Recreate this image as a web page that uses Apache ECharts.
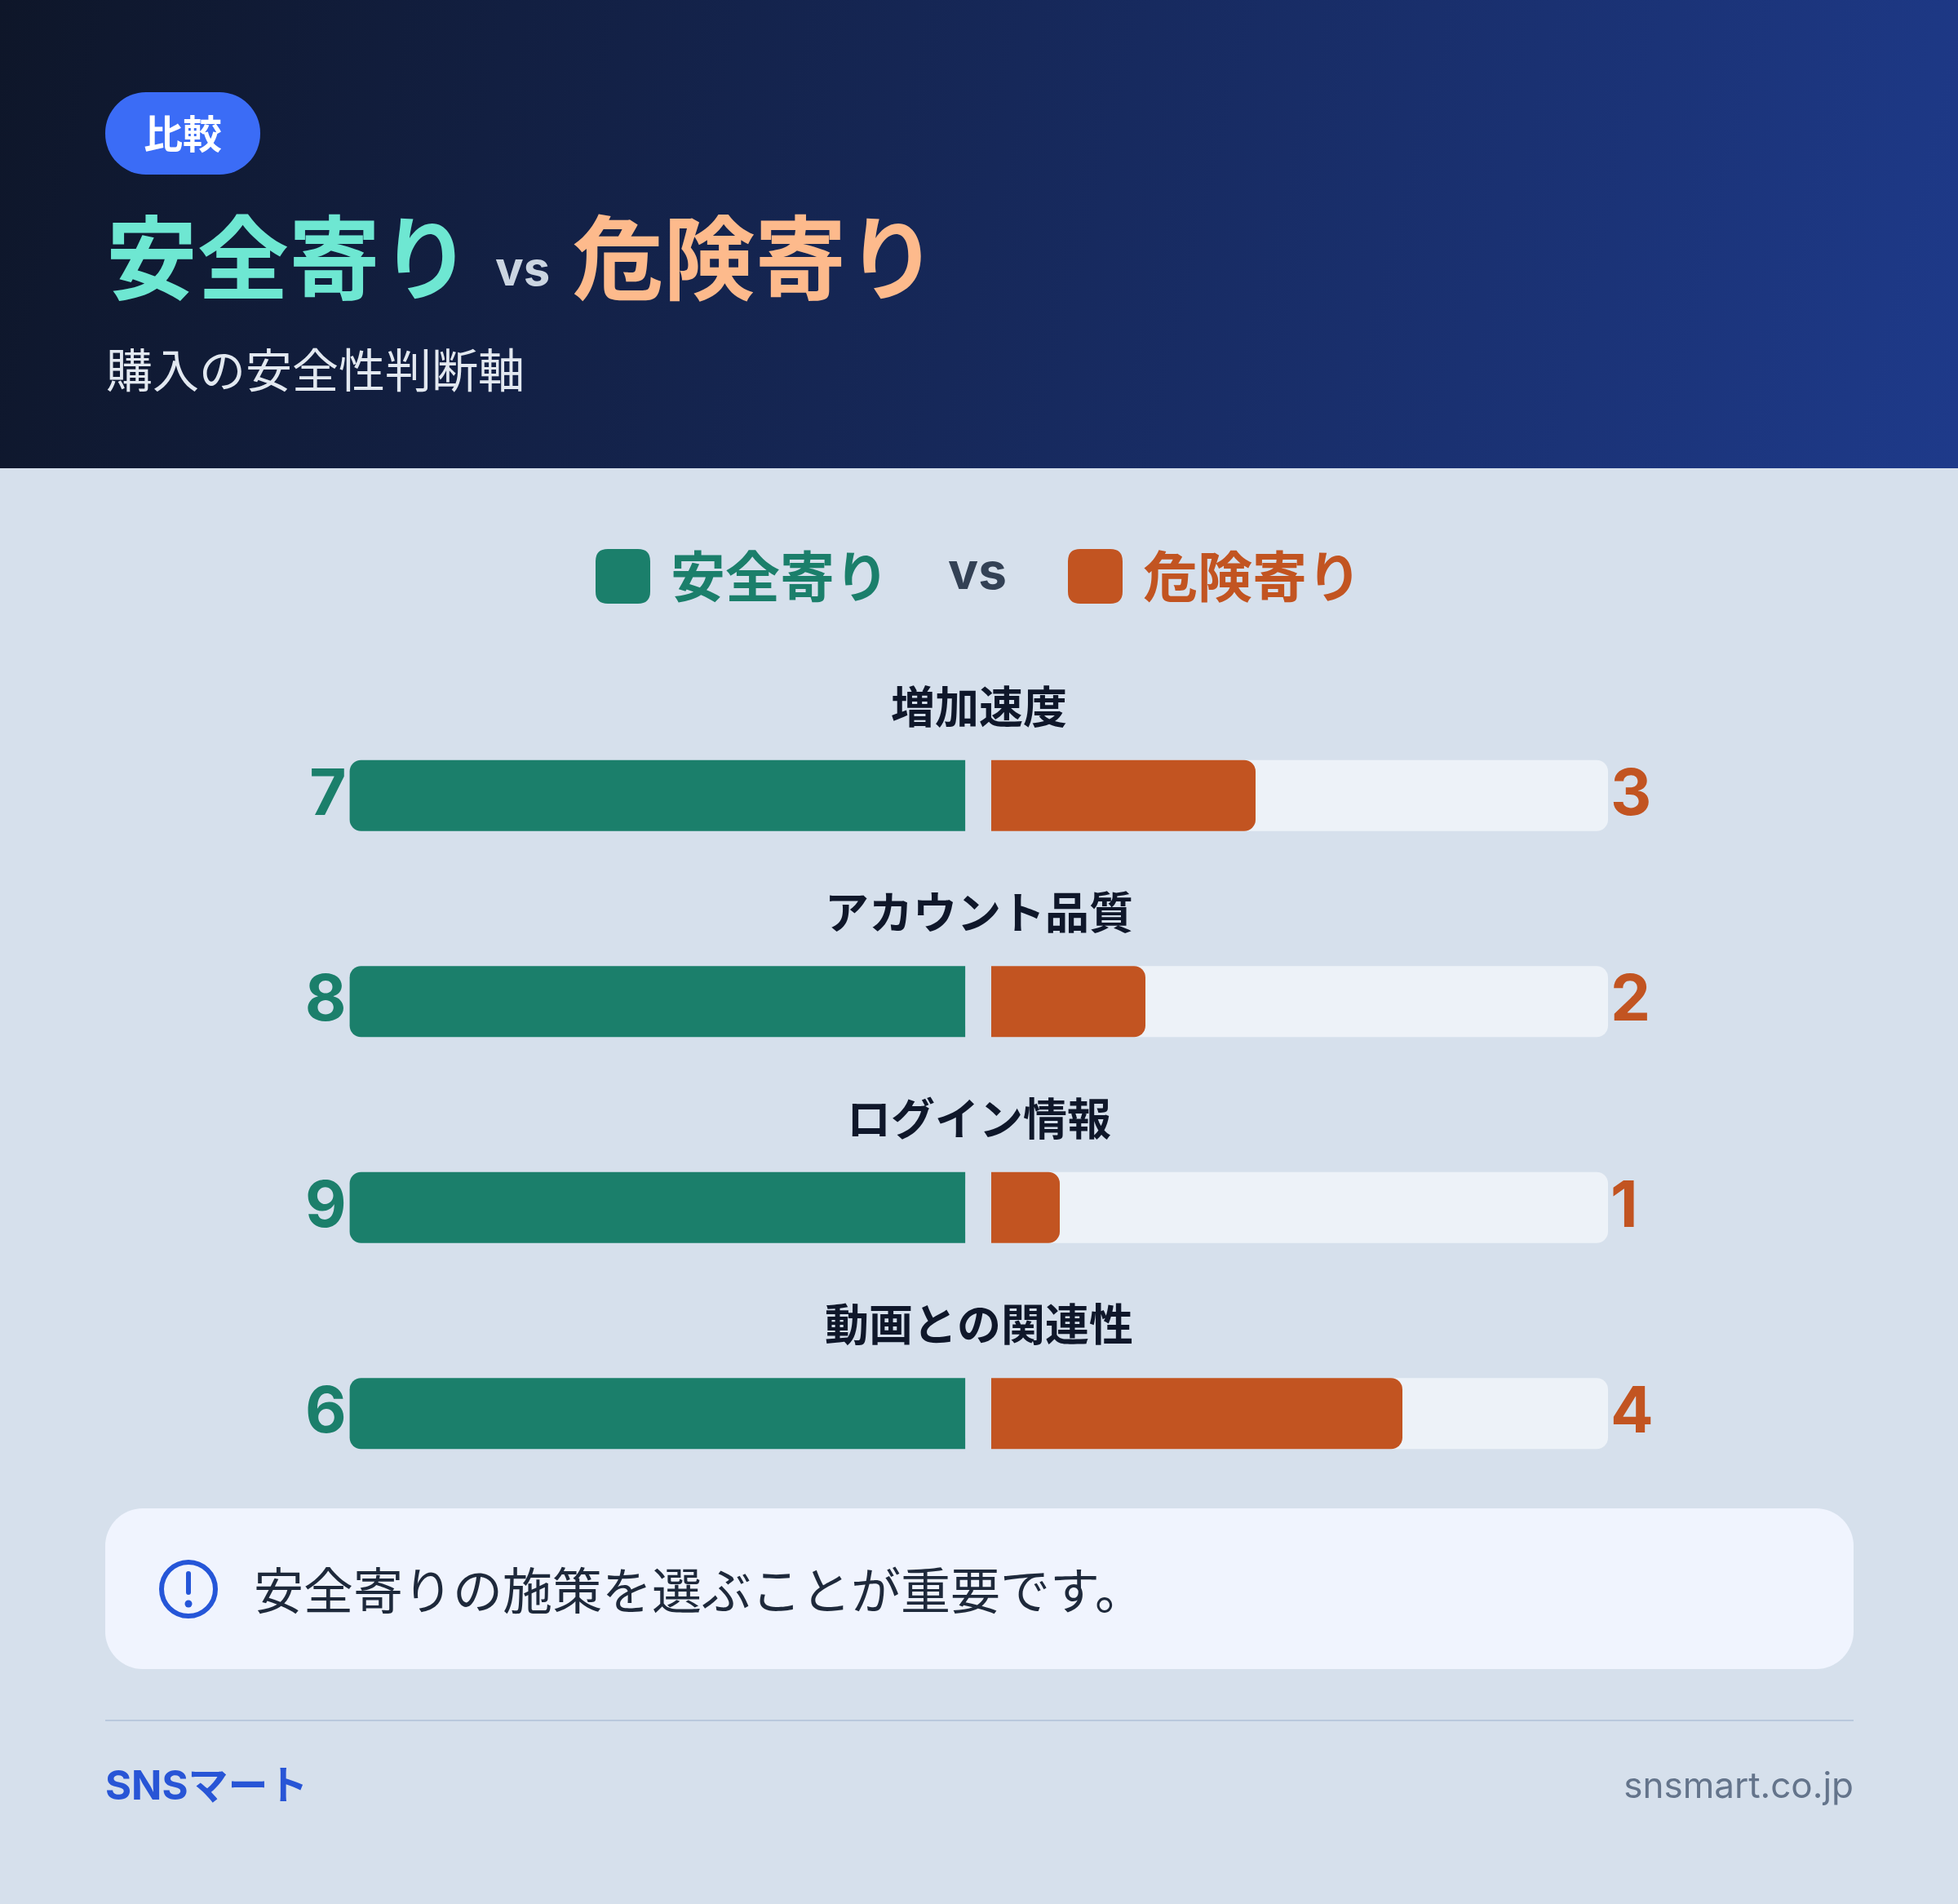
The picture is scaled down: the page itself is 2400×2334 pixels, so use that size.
<!DOCTYPE html>
<html>
<head>
<meta charset="utf-8">
<script src="https://cdn.jsdelivr.net/npm/echarts@6/dist/echarts.min.js"></script>
<style>
  html, body { margin: 0; padding: 0; background: #d6e0ec; }
  #chart { width: 2400px; height: 2334px; }
</style>
</head>
<body>
<div id="chart"></div>
<script>
// 比較データ
var categories = ['増加速度', 'アカウント品質', 'ログイン情報', '動画との関連性'];
var safeValues = [7, 8, 9, 6];
var dangerValues = [3, 2, 1, 4];

var safeName = '安全寄り';
var dangerName = '危険寄り';
var noteText = '安全寄りの施策を選ぶことが重要です。';

var GREEN = '#1b7f6b';
var ORANGE = '#c25421';
var JP = "'Noto Sans CJK JP', sans-serif";
var LAT = "Inter, 'Noto Sans CJK JP', sans-serif";

// 左バーは安全寄りを基準(=1)、右バーは危険/安全の比で描く
var safeRatio = safeValues.map(function (v, i) { return safeValues[i] / v; });
var dangerRatio = dangerValues.map(function (v, i) { return v / safeValues[i]; });

var myChart = echarts.init(document.getElementById('chart'));

var gridTop = 849, gridHeight = 1010;

var option = {
    backgroundColor: '#d6e0ec',
    animation: false,
    legend: {
        left: 725,
        top: 668,
        itemWidth: 67,
        itemHeight: 67,
        itemGap: 219,
        selectedMode: false,
        icon: 'path://M15,0 L52,0 Q67,0 67,15 L67,52 Q67,67 52,67 L15,67 Q0,67 0,52 L0,15 Q0,0 15,0 Z',
        textStyle: { fontSize: 67, fontWeight: 'bold', fontFamily: JP, padding: [0, 0, 0, 20] },
        data: [
            { name: safeName, itemStyle: { color: GREEN }, textStyle: { color: GREEN } },
            { name: dangerName, itemStyle: { color: ORANGE }, textStyle: { color: ORANGE } }
        ]
    },
    grid: [
        { left: 428.6, width: 754.5, top: gridTop, height: gridHeight },
        { left: 1215, width: 756, top: gridTop, height: gridHeight }
    ],
    xAxis: [
        { gridIndex: 0, type: 'value', min: 0, max: 1, inverse: true, show: false },
        { gridIndex: 1, type: 'value', min: 0, max: 1, show: false }
    ],
    yAxis: [
        {
            gridIndex: 0, type: 'category', data: categories, inverse: true, position: 'left',
            axisLine: { show: false }, axisTick: { show: false }, splitLine: { show: false },
            axisLabel: {
                margin: 4, color: GREEN, fontSize: 78, fontWeight: 'bold', fontFamily: LAT,
                formatter: function (v, i) { return String(safeValues[i]); }
            }
        },
        {
            gridIndex: 1, type: 'category', data: categories, inverse: true, position: 'right',
            axisLine: { show: false }, axisTick: { show: false }, splitLine: { show: false },
            axisLabel: {
                margin: 3, color: ORANGE, fontSize: 78, fontWeight: 'bold', fontFamily: LAT,
                formatter: function (v, i) { return String(dangerValues[i]); }
            }
        }
    ],
    series: [
        {
            name: safeName, type: 'bar', xAxisIndex: 0, yAxisIndex: 0,
            data: safeRatio, barWidth: 87,
            itemStyle: { color: GREEN, borderRadius: [14, 0, 0, 14] }
        },
        {
            name: dangerName, type: 'bar', xAxisIndex: 1, yAxisIndex: 1,
            data: dangerRatio, barWidth: 87,
            showBackground: true,
            backgroundStyle: { color: '#edf2f8', borderRadius: [0, 14, 14, 0] },
            itemStyle: { color: ORANGE, borderRadius: [0, 14, 14, 0] }
        }
    ],
    graphic: []
};

myChart.setOption(option);

// 固定の装飾(ヘッダー・注記・フッター)
var graphics = [
    {
        type: 'rect', z: -1, shape: { x: 0, y: 0, width: 2400, height: 574 },
        style: {
            fill: new echarts.graphic.LinearGradient(0, 0, 1, 1, [
                { offset: 0, color: '#0e1629' },
                { offset: 1, color: '#1e3a8a' }
            ])
        }
    },
    {
        type: 'rect', shape: { x: 129, y: 113, width: 190, height: 101, r: 50 },
        style: { fill: '#3b6cf6' }
    },
    {
        type: 'text', x: 224, y: 164,
        style: { text: '比較', fill: '#ffffff', fontSize: 48, fontWeight: 'bold', fontFamily: JP, align: 'center', verticalAlign: 'middle' }
    },
    {
        type: 'text', x: 130, y: 316,
        style: {
            text: '{a|安全寄り}{v|vs}{b|危険寄り}',
            verticalAlign: 'middle',
            rich: {
                a: { fontSize: 112, fontWeight: 'bold', fontFamily: JP, fill: '#6ee7d2', verticalAlign: 'bottom' },
                v: { fontSize: 58, fontWeight: 'bold', fontFamily: LAT, fill: '#cbd5e1', verticalAlign: 'bottom', padding: [0, 27, 10, 29] },
                b: { fontSize: 112, fontWeight: 'bold', fontFamily: JP, fill: '#fdba8c', verticalAlign: 'bottom' }
            }
        }
    },
    {
        type: 'text', x: 130, y: 453,
        style: { text: '購入の安全性判断軸', fill: '#e2e8f0', fontSize: 57, fontFamily: JP, verticalAlign: 'middle' }
    },
    {
        type: 'text', x: 1198, y: 703,
        style: { text: 'vs', fill: '#334155', fontSize: 62, fontWeight: 'bold', fontFamily: LAT, align: 'center', verticalAlign: 'middle' }
    },
    {
        type: 'rect', shape: { x: 129, y: 1849, width: 2143, height: 197, r: 46 },
        style: { fill: '#f0f4fe' }
    },
    {
        type: 'circle', shape: { cx: 231, cy: 1948, r: 33 },
        style: { fill: 'none', stroke: '#2556d8', lineWidth: 6 }
    },
    {
        type: 'line', shape: { x1: 231, y1: 1929, x2: 231, y2: 1952 },
        style: { stroke: '#2556d8', lineWidth: 6, lineCap: 'round' }
    },
    {
        type: 'circle', shape: { cx: 231, cy: 1966, r: 4.5 },
        style: { fill: '#2556d8' }
    },
    {
        type: 'text', x: 311, y: 1950,
        style: { text: noteText, fill: '#1e293b', fontSize: 61, fontFamily: JP, verticalAlign: 'middle' }
    },
    {
        type: 'line', shape: { x1: 129, y1: 2109, x2: 2272, y2: 2109 },
        style: { stroke: '#b9c8dd', lineWidth: 2 }
    },
    {
        type: 'text', x: 129, y: 2191,
        style: { text: 'SNSマート', fill: '#2855d6', fontSize: 49, fontWeight: 'bold', fontFamily: LAT, verticalAlign: 'middle' }
    },
    {
        type: 'text', x: 2272, y: 2191,
        style: { text: 'snsmart.co.jp', fill: '#64748b', fontSize: 44, fontFamily: LAT, align: 'right', verticalAlign: 'middle' }
    }
];

// 各カテゴリ名はバーの上に中央寄せ(軸の位置から算出)
for (var i = 0; i < categories.length; i++) {
    var cy = myChart.convertToPixel({ yAxisIndex: 0 }, categories[i]);
    graphics.push({
        type: 'text', x: 1200, y: cy - 109,
        style: { text: categories[i], fill: '#0f172a', fontSize: 54, fontWeight: 'bold', fontFamily: JP, align: 'center', verticalAlign: 'middle' }
    });
}

myChart.setOption({ graphic: graphics });
</script>
</body>
</html>
